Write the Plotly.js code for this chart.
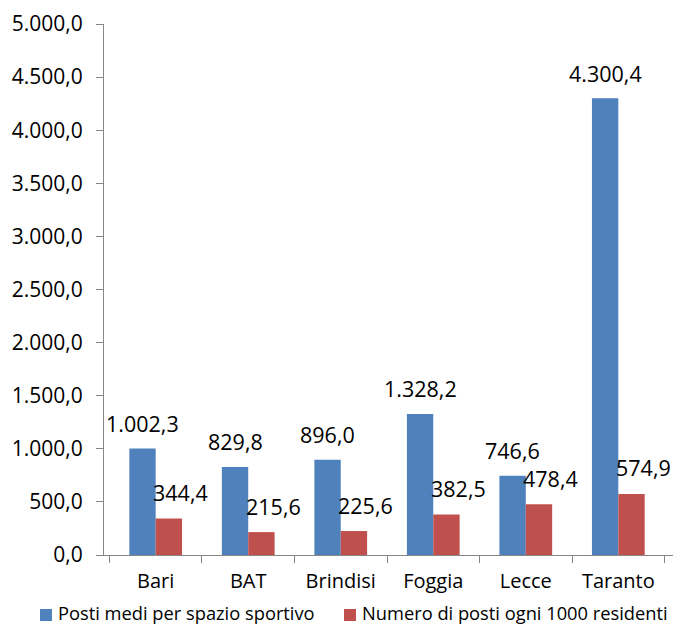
<!DOCTYPE html>
<html>
<head>
<meta charset="utf-8">
<script src="https://cdn.plot.ly/plotly-3.0.1.min.js"></script>
<style>html,body{margin:0;padding:0;background:#fff;}#chart{width:675px;height:625px;}</style>
</head>
<body>
<div id="chart"></div>
<script>
const categories = ["Bari", "BAT", "Brindisi", "Foggia", "Lecce", "Taranto"];
const postiMedi = [1002.3, 829.8, 896.0, 1328.2, 746.6, 4300.4];
const postiPer1000 = [344.4, 215.6, 225.6, 382.5, 478.4, 574.9];
const seriesNames = ["Posti medi per spazio sportivo", "Numero di posti ogni 1000 residenti"];
const seriesColors = ["#4F81BD", "#C0504D"];
const yTicks = [0, 500, 1000, 1500, 2000, 2500, 3000, 3500, 4000, 4500, 5000];

const FONT = "Open Sans, Lato, sans-serif";

function fmt(v) {
  const parts = v.toFixed(1).split(".");
  const intPart = parts[0].replace(/\B(?=(\d{3})+(?!\d))/g, ".");
  return intPart + "," + parts[1];
}

const traces = [
  {type: "bar", x: categories, y: postiMedi, name: seriesNames[0],
   marker: {color: seriesColors[0]}, hoverinfo: "none"},
  {type: "bar", x: categories, y: postiPer1000, name: seriesNames[1],
   marker: {color: seriesColors[1]}, hoverinfo: "none"}
];

// plot area geometry (px) used only to place the legend
const W = 675, H = 625, ML = 104, MR = 2, MT = 24, MB = 70;
const PW = W - ML - MR, PH = H - MT - MB;
const px2x = p => (p - ML) / PW;
const px2y = p => (H - MB - p) / PH;

const barOffset = 0.1425;
const annotations = [];
postiMedi.forEach((v, i) => {
  annotations.push({x: i - barOffset, y: v, xref: "x", yref: "y", text: fmt(v),
    showarrow: false, yanchor: "middle", xanchor: "center", yshift: 25,
    font: {family: FONT, size: 21.5, color: "#000"}});
});
postiPer1000.forEach((v, i) => {
  annotations.push({x: i + barOffset, y: v, xref: "x", yref: "y", text: fmt(v),
    showarrow: false, yanchor: "middle", xanchor: "center", yshift: 26, xshift: 12,
    font: {family: FONT, size: 21.5, color: "#000"}});
});

// manual legend
const legendSquares = [40, 344];
const legendTexts = [56, 360];
const shapes = [];
seriesNames.forEach((n, k) => {
  shapes.push({type: "rect", xref: "paper", yref: "paper",
    x0: px2x(legendSquares[k]), x1: px2x(legendSquares[k] + 12),
    y0: px2y(621), y1: px2y(609), line: {width: 0}, fillcolor: seriesColors[k]});
  annotations.push({xref: "paper", yref: "paper", x: px2x(legendTexts[k]), y: px2y(612),
    xanchor: "left", yanchor: "middle", text: n, showarrow: false,
    font: {family: FONT, size: 18.3, color: "#000"}});
});

const layout = {
  width: W, height: H,
  margin: {l: ML, r: MR, t: MT, b: MB},
  paper_bgcolor: "#fff", plot_bgcolor: "#fff",
  separators: ",.",
  barmode: "group", bargap: 0.43, bargroupgap: 0,
  font: {family: FONT, size: 20, color: "#000"},
  showlegend: false,
  xaxis: {type: "category", showline: true, linecolor: "#868686", linewidth: 1,
    ticks: "outside", tickson: "boundaries", ticklen: 7, tickcolor: "#868686",
    showgrid: false, zeroline: false, tickfont: {family: FONT, size: 20, color: "#000"},
    ticklabelstandoff: 8, automargin: false, fixedrange: true},
  yaxis: {range: [0, 5000], tickvals: yTicks, tickformat: ",.1f", showline: true,
    linecolor: "#868686", linewidth: 1, ticks: "outside", ticklen: 7, tickcolor: "#868686",
    showgrid: false, zeroline: false, tickfont: {family: FONT, size: 21, color: "#000"},
    ticklabelstandoff: 9, automargin: false, fixedrange: true},
  annotations: annotations,
  shapes: shapes
};

Plotly.newPlot("chart", traces, layout, {displayModeBar: false, staticPlot: true});
</script>
</body>
</html>
